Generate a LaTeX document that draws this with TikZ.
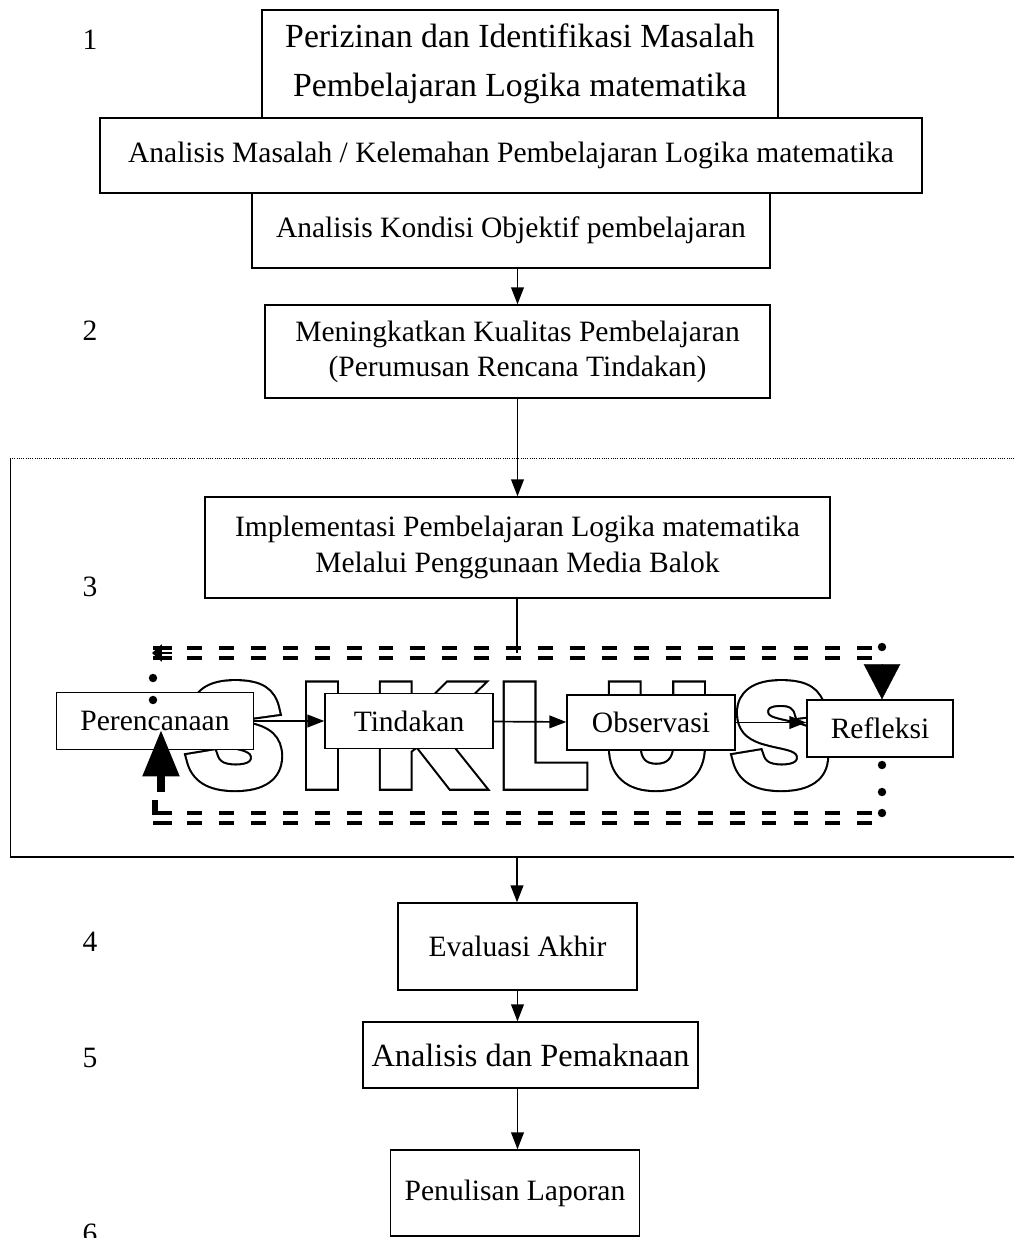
\documentclass[tikz,border=0pt]{standalone}
\usepackage{fontspec}
\setmainfont{Liberation Serif}
\newfontfamily\siklusfont{Liberation Sans}
\usetikzlibrary{arrows.meta}

\def\u{0.025cm}
% huruf dengan garis tepi (text render mode 2 = isi + garis)
\newcommand\tebal[3]{\special{pdf:literal direct 2 Tr #2 w}\textcolor{#1}{#3}\special{pdf:literal direct 0 Tr 1 w}}
\tikzset{
  kotak/.style={draw, fill=white, line width=1pt, inner sep=0pt, align=center},
  teks/.style={font=\fontsize{21}{25}\selectfont},
  panah/.style={line width=1.2pt, -{Triangle[length=12pt,width=9pt]}},
  ganda/.style={line width=2.2pt, dash pattern=on 10.6pt off 12.1pt},
  titik/.style={circle, fill=black, inner sep=0pt, minimum size=6pt},
  huruf/.style={anchor=base, inner sep=0pt, font=\siklusfont\bfseries\fontsize{100}{100}\selectfont},
}

\begin{document}
\begin{tikzpicture}[x=\u, y=-\u, teks]
  \useasboundingbox (0,0) rectangle (1014,1238);
  % nomor tahap
  \foreach \n/\y in {1/40, 2/331, 3/587, 4/942, 5/1058, 6/1234}
    \node (nomor\n) at (90,\y) {\n};
  % bingkai siklus
  \draw[densely dotted, line width=0.6pt] (10,458) -- (1014,458);
  \draw[line width=0.6pt] (10,458) -- (10,857);
  \draw[line width=1.3pt] (10,857) -- (1014,857);
  \coordinate (bawah) at (517,857);

  % huruf SIKLUS
  \foreach \h/\x [count=\i] in {S/235, I/322, K/427, L/543, U/657, S/781}
    \node[huruf] (huruf\i) at (\x,784) {\rlap{\tebal{black}{9.6}{\h}}\tebal{white}{6.6}{\h}};

  % kotak-kotak
  \node[kotak, minimum width=516*\u, minimum height=108*\u, font=\fontsize{24}{35}\selectfont]
    (izin) at (520,64) {Perizinan dan Identifikasi Masalah\\Pembelajaran Logika matematika};
  \node[kotak, minimum width=822*\u, minimum height=75*\u] (masalah) at (511,155.5)
    {Analisis Masalah / Kelemahan Pembelajaran Logika matematika};
  \node[kotak, minimum width=518*\u, minimum height=75*\u] (kondisi) at (511,230.5)
    {Analisis Kondisi Objektif pembelajaran};
  \node[kotak, minimum width=505*\u, minimum height=93*\u] (kualitas) at (517.5,351.5)
    {Meningkatkan Kualitas Pembelajaran\\(Perumusan Rencana Tindakan)};
  \node[kotak, minimum width=625*\u, minimum height=101*\u] (impl) at (517.5,547.5)
    {Implementasi Pembelajaran Logika matematika\\Melalui Penggunaan Media Balok};
  \node[kotak, minimum width=197*\u, minimum height=57*\u] (renc) at (155,721) {Perencanaan};
  \node[kotak, minimum width=168*\u, minimum height=55*\u] (tind) at (409,721) {Tindakan};
  \node[kotak, minimum width=168*\u, minimum height=55*\u] (obs) at (651,722.5) {Observasi};
  \node[kotak, minimum width=146*\u, minimum height=57*\u] (refl) at (880,728.5) {Refleksi};
  \node[kotak, minimum width=239*\u, minimum height=87*\u] (eval) at (517.5,946.5) {Evaluasi Akhir};
  \node[kotak, minimum width=335*\u, minimum height=66*\u, font=\fontsize{23}{27}\selectfont]
    (makna) at (530.5,1055) {Analisis dan Pemaknaan};
  \node[kotak, minimum width=249*\u, minimum height=86*\u] (lapor) at (515,1193) {Penulisan Laporan};

  % alur utama
  \draw[panah] (kualitas.north |- kondisi.south) -- (kualitas.north);
  \draw[panah] (kualitas.south) -- (impl.north -| kualitas.south);
  \coordinate (atas) at (517,653);
  \draw[line width=1.2pt] (impl.south -| atas) -- (atas);
  \draw[panah] (bawah) -- (eval.north -| bawah);
  \draw[panah] (eval.south) -- (eval.south |- makna.north);
  \draw[panah] (eval.south |- makna.south) -- (eval.south |- lapor.north);

  % siklus
  \draw[panah] (renc) -- (tind);
  \draw[panah] (tind) -- (obs);
  \draw[panah] (obs.east) -- (obs.east -| refl.west);
  \foreach \y in {648,658} {
    \draw[ganda] (187,\y) -- (877,\y);
    \draw[ganda] (187,\y+165) -- (877,\y+165);
  }
  \coordinate (kiriatas) at (172,653);
  \coordinate (kananatas) at (882,647);
  \coordinate (kananbawah) at (882,813);
  \coordinate (kiribawah) at (161,792);
  \draw[line width=2pt, -{Triangle[length=7pt,width=12pt]}] (kiriatas) -- ++(-20,0);
  \draw[line width=2.2pt] (153,648) -- (172,648) (153,658) -- (172,658);
  \draw[line width=2.2pt] (153,813) -- (172,813) (153,823) -- (172,823);
  \draw[line width=4pt] (155,800) -- (155,815);
  \node[titik] (t1) at (kananatas) {};
  \draw[line width=0.2pt, -{Triangle[length=25pt,width=26pt]}] (882,667) -- (refl.north -| kananatas);
  \node[titik] (t2) at (882,765) {};
  \node[titik] (t3) at (882,792) {};
  \node[titik] (t4) at (kananbawah) {};
  \node[titik] (t5) at (153,678) {};
  \node[titik] (t6) at (153,700) {};
  \draw[line width=5.7pt, -{Triangle[length=33pt,width=25pt]}] (kiribawah) -- ++(0,-62);
\end{tikzpicture}
\end{document}
